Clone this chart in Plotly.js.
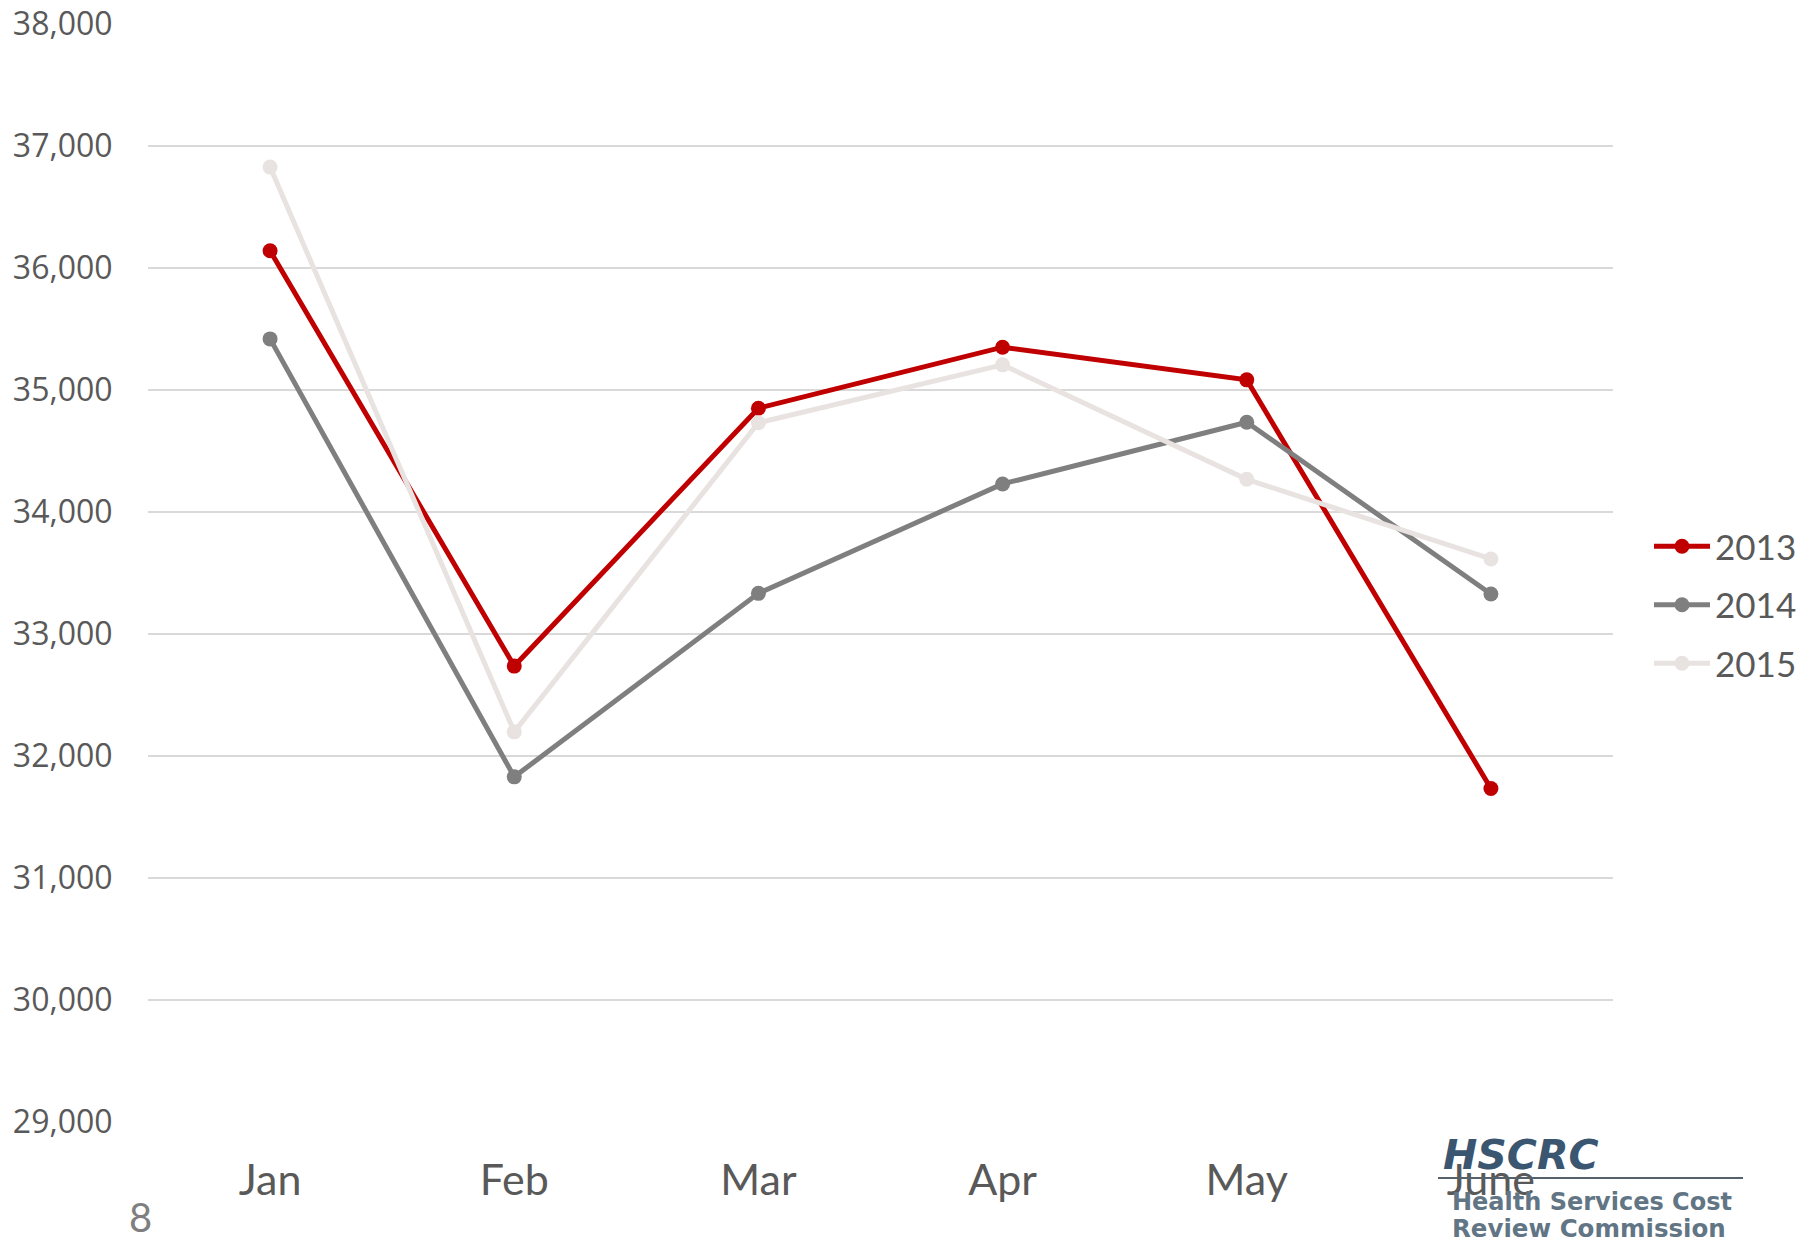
<!DOCTYPE html>
<html>
<head>
<meta charset="utf-8">
<script src="https://cdn.plot.ly/plotly-3.0.1.min.js"></script>
<style>
html,body{margin:0;padding:0;background:#fff;}
#chart{width:1814px;height:1241px;}
</style>
</head>
<body>
<div id="chart"></div>
<script>
// ---- data ----
var months = ["Jan", "Feb", "Mar", "Apr", "May", "June"];
var values2013 = [36141, 32737, 34851, 35351, 35083, 31734];
var values2014 = [35419, 31829, 33333, 34230, 34736, 33328];
var values2015 = [36827, 32198, 34732, 35206, 34268, 33615];
var seriesNames = ["2013", "2014", "2015"];
var yTickVals = [29000, 30000, 31000, 32000, 33000, 34000, 35000, 36000, 37000, 38000];
var yTickText = ["29,000", "30,000", "31,000", "32,000", "33,000", "34,000", "35,000", "36,000", "37,000", "38,000"];
var pageNumber = "8";
var logoTitle = "HSCRC";
var logoLine1 = "Health Services Cost";
var logoLine2 = "Review Commission";

// ---- geometry helpers (layout only) ----
var W = 1814, H = 1241;
var mL = 148, mR = 201, mT = 24, mB = 119;
var plotW = W - mL - mR, plotH = H - mT - mB;
function px2x(px) { return (px - mL) / plotW; }
function py2y(py) { return (H - mB - py) / plotH; }

var colors = ["#C00000", "#7F7F7F", "#E8E3E1"];
var seriesValues = [values2013, values2014, values2015];

var traces = seriesValues.map(function (vals, i) {
  return {
    type: "scatter",
    mode: "lines+markers",
    name: seriesNames[i],
    legendgroup: seriesNames[i],
    x: months,
    y: vals,
    line: { color: colors[i], width: 5 },
    marker: { color: colors[i], size: 15 },
    cliponaxis: false
  };
});

var textColor = "#595959";

var layout = {
  width: W,
  height: H,
  margin: { l: mL, r: mR, t: mT, b: mB, pad: 0, autoexpand: false },
  paper_bgcolor: "#ffffff",
  plot_bgcolor: "#ffffff",
  showlegend: true,
  hovermode: false,
  font: { family: "Lato, 'Open Sans', sans-serif", color: textColor },
  xaxis: {
    type: "category",
    range: [-0.5, 5.5],
    showgrid: false,
    zeroline: false,
    showline: false,
    automargin: false,
    ticks: "outside",
    ticklen: 20,
    tickcolor: "rgba(0,0,0,0)",
    tickfont: { family: "Lato, sans-serif", size: 43, color: textColor },
    fixedrange: true
  },
  yaxis: {
    range: [29000, 38000],
    tickvals: yTickVals,
    ticktext: yTickText,
    showgrid: true,
    gridcolor: "#D9D9D9",
    gridwidth: 2,
    zeroline: false,
    showline: false,
    automargin: false,
    ticks: "outside",
    ticklen: 28,
    tickcolor: "rgba(0,0,0,0)",
    tickfont: { family: "'Open Sans', sans-serif", size: 32, color: textColor },
    fixedrange: true
  },
  legend: {
    x: px2x(1649),
    xanchor: "left",
    y: py2y(605),
    yanchor: "middle",
    traceorder: "grouped",
    tracegroupgap: 10,
    font: { family: "Lato, sans-serif", size: 35, color: textColor },
    bgcolor: "rgba(0,0,0,0)",
    itemwidth: 56
  },
  shapes: [
    {
      type: "line", xref: "paper", yref: "paper",
      x0: px2x(1438), x1: px2x(1743), y0: py2y(1178), y1: py2y(1178),
      line: { color: "#55616b", width: 2 }
    }
  ],
  annotations: [
    {
      text: pageNumber, xref: "paper", yref: "paper",
      x: px2x(140), y: py2y(1217), xanchor: "center", yanchor: "middle",
      showarrow: false,
      font: { family: "Lato, sans-serif", size: 40, color: "#7F7F7F" }
    },
    {
      text: "<b><i>" + logoTitle + "</i></b>", xref: "paper", yref: "paper",
      x: px2x(1441), y: py2y(1155), xanchor: "left", yanchor: "middle",
      showarrow: false,
      font: { family: "'DejaVu Sans', sans-serif", size: 41, color: "#3B5670" }
    },
    {
      text: "<b>" + logoLine1 + "</b>", xref: "paper", yref: "paper",
      x: px2x(1450), y: py2y(1202), xanchor: "left", yanchor: "middle",
      showarrow: false,
      font: { family: "'DejaVu Sans', sans-serif", size: 24, color: "#627585" }
    },
    {
      text: "<b>" + logoLine2 + "</b>", xref: "paper", yref: "paper",
      x: px2x(1450), y: py2y(1228), xanchor: "left", yanchor: "middle",
      showarrow: false,
      font: { family: "'DejaVu Sans', sans-serif", size: 24.5, color: "#627585" }
    }
  ]
};

Plotly.newPlot("chart", traces, layout, { displayModeBar: false, staticPlot: true });
</script>
</body>
</html>
